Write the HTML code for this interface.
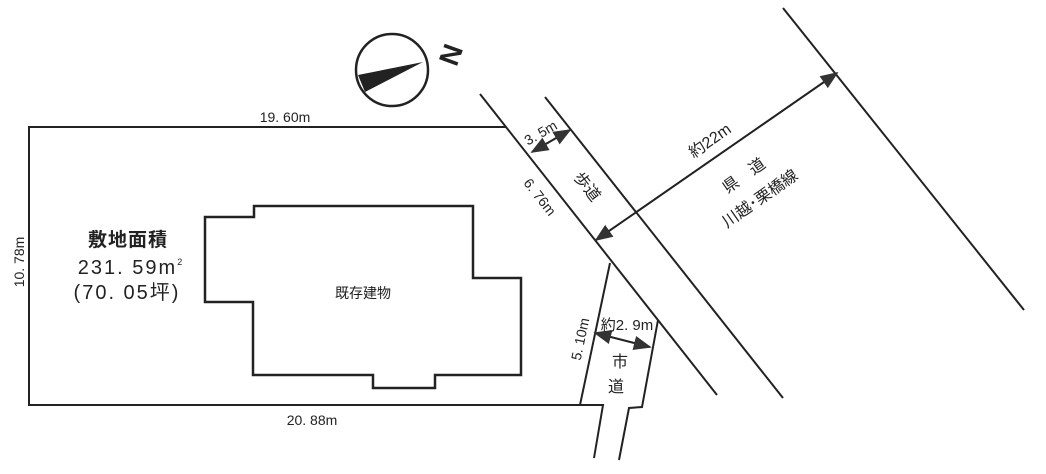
<!DOCTYPE html>
<html><head><meta charset="utf-8"><style>
html,body{margin:0;padding:0;background:#fff;width:1046px;height:474px;overflow:hidden}
svg text{font-family:"Liberation Sans","Noto Sans CJK JP",sans-serif;fill:#222}
</style></head><body>
<svg width="1046" height="474" viewBox="0 0 1046 474" xmlns="http://www.w3.org/2000/svg">
<defs>
<marker id="ahb" viewBox="0 0 10 10" refX="9" refY="5" markerWidth="18" markerHeight="18" orient="auto-start-reverse" markerUnits="userSpaceOnUse">
<path d="M0,1 L10,5 L0,9 z" fill="#333"/></marker>
</defs>
<g stroke="#222" stroke-width="2" fill="none">
<polyline points="506,127 29,127 29,405 580,405 610,263"/>
<line x1="480" y1="94" x2="717" y2="395"/>
<line x1="545" y1="97" x2="783" y2="398"/>
<line x1="783" y1="8" x2="1024" y2="310"/>
<polyline points="658,320 642,407 629,408 619,460"/>
<polyline points="580,405 603,405 594,458"/>
<polygon points="205,217 254,217 254,206 473,206 473,278 521,278 521,375 435,375 435,388 373,388 373,375 253,375 253,302 205,302" stroke-width="2.5"/>
<line x1="532" y1="152" x2="570" y2="130" marker-start="url(#ahb)" marker-end="url(#ahb)"/>
<line x1="596" y1="240" x2="837" y2="73" marker-start="url(#ahb)" marker-end="url(#ahb)"/>
<line x1="595" y1="333" x2="650" y2="347" marker-start="url(#ahb)" marker-end="url(#ahb)"/>
<circle cx="392" cy="70" r="36" stroke-width="2.5"/>
</g>
<polygon points="423,62 358,75 365,92" fill="#222"/>
<text x="0" y="0" font-size="28" font-weight="bold" text-anchor="middle" transform="translate(460,58) rotate(-70)" style="font-family:'Liberation Sans',sans-serif">N</text>

<text x="285" y="122" font-size="14" text-anchor="middle">19. 60m</text>
<text x="312" y="425" font-size="14" text-anchor="middle">20. 88m</text>
<text font-size="14" text-anchor="middle" transform="translate(24,262) rotate(-90)">10. 78m</text>
<text x="128" y="246" font-size="19" font-weight="bold" text-anchor="middle" letter-spacing="1">敷地面積</text>
<text x="131" y="274" font-size="20" text-anchor="middle" letter-spacing="2">231. 59m<tspan font-size="9" dy="-9">2</tspan></text>
<text x="127" y="299" font-size="20" text-anchor="middle" letter-spacing="2">(70. 05坪)</text>
<text x="363" y="298" font-size="14" text-anchor="middle">既存建物</text>

<text font-size="14" text-anchor="middle" transform="translate(543,137) rotate(-30)">3. 5m</text>
<text font-size="14" text-anchor="middle" transform="translate(536,200) rotate(52)">6. 76m</text>
<text font-size="16" text-anchor="middle" transform="translate(583,190) rotate(52)">歩道</text>
<text font-size="16" text-anchor="middle" transform="translate(713,145) rotate(-35)">約22m</text>
<text font-size="16" text-anchor="middle" transform="translate(747,180) rotate(-35)">県　道</text>
<text font-size="16" text-anchor="middle" transform="translate(763,203) rotate(-35)">川越･栗橋線</text>
<text font-size="14" text-anchor="middle" transform="translate(585,340) rotate(-78)">5. 10m</text>
<text x="627" y="330" font-size="15" text-anchor="middle">約2. 9m</text>
<text x="620" y="367" font-size="16" text-anchor="middle">市</text>
<text x="616" y="392" font-size="16" text-anchor="middle">道</text>
</svg>
</body></html>
